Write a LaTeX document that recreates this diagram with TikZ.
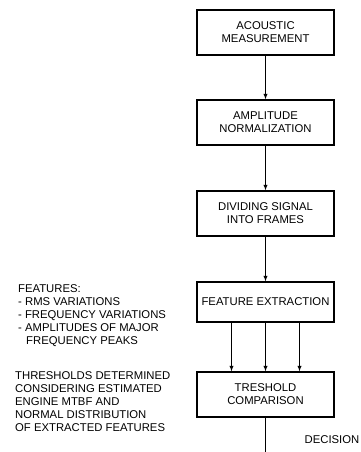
\documentclass[tikz,border=0pt]{standalone}
\usepackage{fontspec}
\setmainfont{Liberation Sans}

\begin{document}
\begin{tikzpicture}[x=1pt,y=-1pt,
  step_box/.style={rectangle,draw,line width=1.3pt,minimum width=137pt,minimum height=45pt,align=center,inner sep=2pt},
  note/.style={align=left,anchor=north west,inner sep=0pt},
  flow/.style={->,>=latex,line width=0.9pt},
  every node/.append style={font=\fontsize{11.3}{13}\selectfont}]
    \useasboundingbox (0,0) rectangle (360,452);

    \node[step_box] (1) at (265.5, 32.5) {ACOUSTIC\\MEASUREMENT};
    \node[step_box] (2) at (265.5, 122.5) {AMPLITUDE\\NORMALIZATION};
    \node[step_box] (3) at (265.5, 213.5) {DIVIDING SIGNAL\\INTO FRAMES};
    \node[step_box,minimum height=40pt] (4) at (265.5, 302) {FEATURE EXTRACTION};
    \node[step_box] (5) at (265.5, 394.5) {TRESHOLD\\COMPARISON};

    \node[note] (feat) at (18, 284) {FEATURES:\\- RMS VARIATIONS\\- FREQUENCY VARIATIONS\\- AMPLITUDES OF MAJOR\\\hspace*{8pt}FREQUENCY PEAKS};
    \node[note] (thr) at (15, 371) {THRESHOLDS DETERMINED\\CONSIDERING ESTIMATED\\ENGINE MTBF AND\\NORMAL DISTRIBUTION\\OF EXTRACTED FEATURES};
    \node[anchor=east,inner sep=0pt] (dec) at (359.5, 440) {DECISION};
    \coordinate (out) at (265.5, 452);

    \draw[flow] (1) -- (2);
    \draw[flow] (2) -- (3);
    \draw[flow] (3) -- (4);
    \draw[flow] ([xshift=-34pt]4.south) -- ([xshift=-34pt]5.north);
    \draw[flow] (4) -- (5);
    \draw[flow] ([xshift=34pt]4.south) -- ([xshift=34pt]5.north);
    \draw[line width=0.9pt] (5) -- (out);
\end{tikzpicture}
\end{document}
